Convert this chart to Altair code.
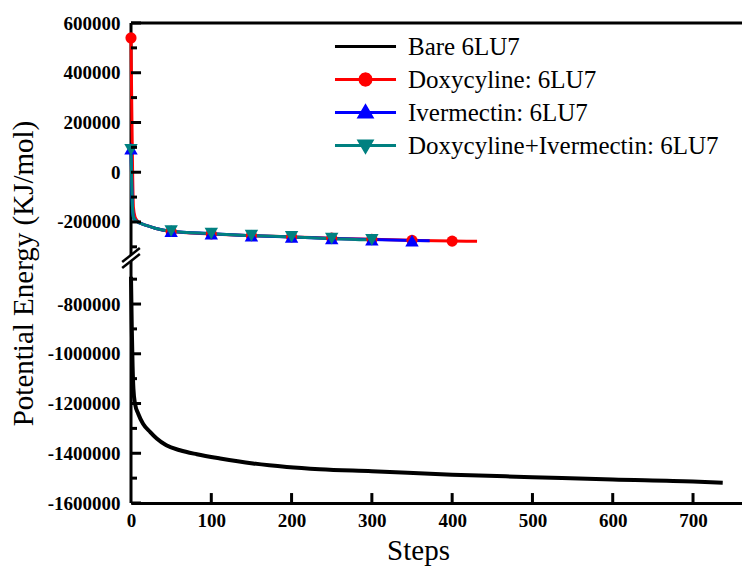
import altair as alt
import pandas as pd

SERIES = ["Bare 6LU7", "Doxycyline: 6LU7", "Ivermectin: 6LU7", "Doxycyline+Ivermectin: 6LU7"]
COLORS = ["#000000", "#ff0000", "#0000ff", "#008080"]

bare_steps = [0, 1, 2, 3, 5, 9, 15, 24, 32, 44, 61, 82, 111, 152, 194, 235, 300, 400, 500, 600, 700, 737]
bare_vals = [-690000, -900000, -1050000, -1140000, -1201000, -1241000, -1281000, -1315000, -1341000,
             -1368000, -1388000, -1404000, -1421000, -1441000, -1455000, -1464000, -1472000, -1486000,
             -1496000, -1506000, -1514000, -1519000]

doxy_steps = [0, 1, 2, 3, 5, 8, 12, 20, 30, 50, 100, 150, 200, 250, 300, 350, 400, 431]
doxy_vals = [540000, 250000, 0, -140000, -180000, -196000, -205000, -215000, -225000, -238000,
             -248000, -255000, -260000, -265000, -270000, -274000, -277000, -278000]

iver_steps = [0, 1, 2, 3, 5, 8, 12, 20, 30, 50, 100, 150, 200, 250, 300, 350, 372]
iver_vals = [95000, -60000, -150000, -180000, -192000, -199000, -206000, -215000, -225000, -237000,
             -247000, -255000, -260000, -266000, -271000, -275000, -276000]

combo_steps = [0, 1, 2, 3, 5, 8, 12, 20, 30, 50, 100, 150, 200, 250, 300, 305]
combo_vals = [90000, -60000, -150000, -180000, -192000, -199000, -206000, -215000, -225000, -237000,
              -247000, -255000, -260000, -267000, -272000, -272000]

X_TICKS = [0, 100, 200, 300, 400, 500, 600, 700]
Y_MAJOR_UP = [600000, 400000, 200000, 0, -200000]
Y_MAJOR_LOW = [-800000, -1000000, -1200000, -1400000, -1600000]
Y_MINOR_UP = [500000, 300000, 100000, -100000, -300000]
Y_MINOR_LOW = [-700000, -900000, -1100000, -1300000, -1500000]

OFFSET = 270000      # amount removed from the lower (broken) part of the y axis
BREAK = -345000      # transformed position of the axis break
Y_DOMAIN = [-1600000 + OFFSET, 600000]
X_DOMAIN = [0, 761]

rows = []
for name, steps, vals in zip(SERIES, [bare_steps, doxy_steps, iver_steps, combo_steps],
                             [bare_vals, doxy_vals, iver_vals, combo_vals]):
    for s, v in zip(steps, vals):
        rows.append({"series": name, "step": s, "value": v})
df = pd.DataFrame(rows)

XS = alt.Scale(domain=X_DOMAIN, nice=False, zero=False)
YS = alt.Scale(domain=Y_DOMAIN, nice=False, zero=False)
FONT = "Liberation Serif"

y_major_t = Y_MAJOR_UP + [v + OFFSET for v in Y_MAJOR_LOW]
y_minor_t = Y_MINOR_UP + [v + OFFSET for v in Y_MINOR_LOW]

x_axis = alt.Axis(values=X_TICKS, format="d", labelFont=FONT, labelFontSize=19, labelFontWeight="bold",
                  labelColor="black", labelPadding=8, labelFlush=False, ticks=False, tickSize=0, grid=False,
                  domainColor="black", domainWidth=3, title="Steps", titleFont=FONT, titleFontSize=29,
                  titleFontWeight="normal", titleColor="black", titleX=287, titleY=56,
                  titleBaseline="alphabetic")
y_axis = alt.Axis(values=y_major_t,
                  labelExpr=f"'' + (datum.value > {BREAK} ? datum.value : datum.value - {OFFSET})",
                  labelFont=FONT, labelFontSize=19, labelFontWeight="bold", labelColor="black",
                  labelPadding=11, labelFlush=False, ticks=False, tickSize=0, grid=False, domain=False,
                  title="Potential Energy (KJ/mol)", titleFont=FONT, titleFontSize=29,
                  titleFontWeight="normal", titleColor="black", titleX=-99, titleY=250,
                  titleBaseline="alphabetic")

base = alt.Chart(df).transform_calculate(
    yt=f"datum.series == '{SERIES[0]}' ? datum.value + {OFFSET} : datum.value"
)

layers = []

# frame: top border and left axis line (with break)
top_df = pd.DataFrame({"y": [Y_DOMAIN[1]]})
layers.append(alt.Chart(top_df).mark_rule(color="black", strokeWidth=3)
              .encode(y=alt.Y("y:Q", scale=YS, axis=y_axis)))

left_df = pd.DataFrame({"x": [0, 0], "y": [BREAK + 12000, Y_DOMAIN[0]], "y2": [Y_DOMAIN[1], BREAK - 12000]})
layers.append(alt.Chart(left_df).mark_rule(color="black", strokeWidth=3)
              .encode(x=alt.X("x:Q", scale=XS, axis=x_axis), y=alt.Y("y:Q", scale=YS), y2="y2:Q"))

widths = [4, 3, 3, 3]
for name, col, w in zip(SERIES, COLORS, widths):
    layers.append(
        base.transform_filter(alt.datum.series == name)
        .mark_line(strokeWidth=w, interpolate="monotone", color=col)
        .encode(x=alt.X("step:Q", scale=XS), y=alt.Y("yt:Q", scale=YS), order="step:Q")
    )

for name, col, shp, sz in zip(SERIES[1:], COLORS[1:], ["circle", "triangle-up", "triangle-down"],
                              [125, 180, 180]):
    layers.append(
        base.transform_filter(alt.datum.series == name)
        .transform_filter("datum.step % 50 == 0")
        .mark_point(filled=True, size=sz, opacity=1, shape=shp, color=col)
        .encode(x=alt.X("step:Q", scale=XS), y=alt.Y("yt:Q", scale=YS))
    )

slash_df = pd.DataFrame({"x": [-11, -11], "x2": [11, 11],
                         "y": [BREAK + 12000 - 28000, BREAK - 12000 - 28000],
                         "y2": [BREAK + 12000 + 28000, BREAK - 12000 + 28000]})
layers.append(alt.Chart(slash_df).mark_rule(color="black", strokeWidth=2.5)
              .encode(x=alt.X("x:Q", scale=XS), x2="x2:Q", y=alt.Y("y:Q", scale=YS), y2="y2:Q"))

# inward ticks
yt_df = pd.DataFrame({"y": y_major_t + y_minor_t,
                      "x": [0] * 10 + [0] * 10,
                      "x2": [12.5] * 10 + [7.5] * 10})
layers.append(alt.Chart(yt_df).mark_rule(color="black", strokeWidth=3)
              .encode(x=alt.X("x:Q", scale=XS), x2="x2:Q", y=alt.Y("y:Q", scale=YS)))
xt_df = pd.DataFrame({"x": X_TICKS[1:], "y": [Y_DOMAIN[0]] * 7, "y2": [Y_DOMAIN[0] + 40000] * 7})
layers.append(alt.Chart(xt_df).mark_rule(color="black", strokeWidth=3)
              .encode(x=alt.X("x:Q", scale=XS), y=alt.Y("y:Q", scale=YS), y2="y2:Q"))

# legend (line + marker symbols)
PATHS = ["M-3,0L3,0",
         "M-3,0L3,0M0.55,0L0.48,0.28L0.28,0.48L0,0.55L-0.28,0.48L-0.48,0.28L-0.55,0L-0.48,-0.28"
         "L-0.28,-0.48L0,-0.55L0.28,-0.48L0.48,-0.28Z",
         "M-3,0L3,0M0,-0.62L0.62,0.45L-0.62,0.45Z",
         "M-3,0L3,0M0,0.62L0.62,-0.45L-0.62,-0.45Z"]
leg = alt.Legend(title=None, orient="none", legendX=222, legendY=11, labelFont=FONT, labelFontSize=25,
                 labelColor="black", symbolSize=414, symbolStrokeWidth=3, labelOffset=30, rowPadding=7,
                 padding=0, symbolOpacity=1, labelLimit=400)
layers.append(
    base.transform_filter("false").mark_point(filled=True, strokeWidth=3).encode(
        x=alt.X("step:Q", scale=XS), y=alt.Y("yt:Q", scale=YS),
        fill=alt.Fill("series:N", scale=alt.Scale(domain=SERIES, range=COLORS), legend=leg),
        stroke=alt.Stroke("series:N", scale=alt.Scale(domain=SERIES, range=COLORS), legend=leg),
        shape=alt.Shape("series:N", scale=alt.Scale(domain=SERIES, range=PATHS), legend=leg),
    )
)

chart = alt.layer(*layers).properties(
    width=611, height=480, autosize="none",
    padding={"left": 123, "top": 15, "right": 0, "bottom": 64},
).configure_view(stroke=None).configure_legend(labelFont=FONT, labelFontSize=25, labelColor="black")

chart.save("out.html", embed_options={"renderer": "svg", "actions": False})
